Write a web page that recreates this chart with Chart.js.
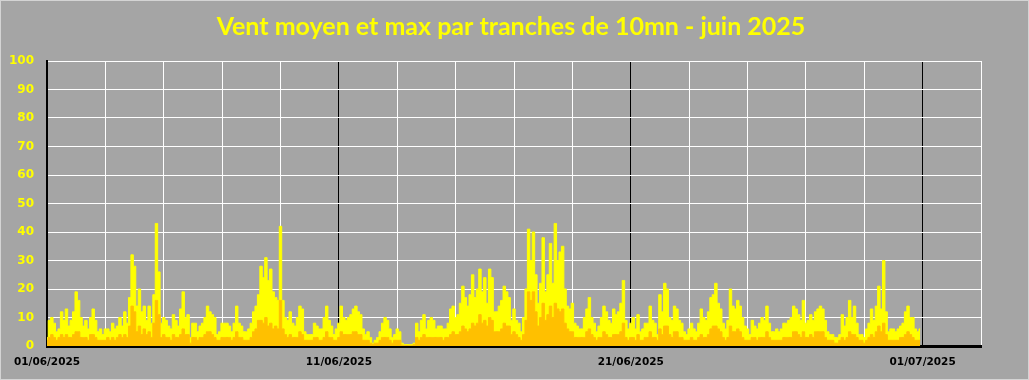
<!DOCTYPE html>
<html>
<head>
<meta charset="utf-8">
<script src="https://cdn.jsdelivr.net/npm/chart.js@4.4.1/dist/chart.umd.min.js"></script>
<style>
  html, body { margin: 0; padding: 0; background: #a5a5a5; }
  #wrap { width: 1029px; height: 380px; }
</style>
</head>
<body>
<div id="wrap"><canvas id="c" width="1029" height="380"></canvas></div>
<script>
// ---- DATA (2-hour samples, 01/06/2025 00:00 -> 01/07/2025 00:00) ----
const titleText = "Vent moyen et max par tranches de 10mn - juin 2025";
const dateLabels = ["01/06/2025", "11/06/2025", "21/06/2025", "01/07/2025"];
const yTicks = [0, 10, 20, 30, 40, 50, 60, 70, 80, 90, 100];
const samplesPerDay = 12;

const windMax = [
  3,9,10,8,5,6,12,9,13,7,9,12,
  19,16,10,7,9,6,10,13,9,5,6,4,
  6,6,5,8,6,7,10,7,12,8,17,32,
  28,14,20,12,14,9,14,8,18,43,26,8,
  10,9,7,6,11,9,7,13,19,10,11,3,
  8,8,5,7,8,10,14,12,11,10,4,5,
  8,8,8,7,5,8,14,8,7,5,5,6,
  8,12,14,18,28,24,31,23,27,19,17,16,
  42,16,10,9,12,8,7,10,14,13,5,4,
  4,4,8,7,6,6,10,14,9,7,4,6,
  8,14,10,9,10,11,13,14,12,11,6,4,
  5,3,1,2,3,5,8,10,9,6,3,4,
  6,5,1,0.5,0.5,0.5,0.5,1,8,5,9,11,
  6,9,10,9,6,7,7,6,6,8,13,14,
  10,11,15,21,17,14,18,25,17,20,27,19,
  24,15,27,24,12,12,14,16,21,19,17,9,
  13,9,8,5,10,20,41,30,40,25,15,22,
  38,19,25,36,22,43,30,33,35,20,14,13,
  15,8,7,6,6,10,13,17,10,8,5,7,
  10,14,12,9,8,13,11,12,15,23,9,6,
  8,10,6,11,5,6,8,8,14,9,8,4,
  18,12,22,20,10,9,14,13,9,8,5,4,
  6,8,6,5,8,13,10,9,12,17,18,22,
  15,13,8,6,9,20,14,13,16,14,10,7,
  6,4,9,7,6,8,10,9,14,8,5,5,
  6,5,6,8,8,9,10,14,13,11,9,16,
  8,9,11,9,12,13,14,13,9,5,4,4,
  3,3,4,11,7,10,16,10,14,8,4,4,
  3,6,8,13,9,14,21,13,30,12,5,6,
  6,5,6,7,8,12,14,10,10,6,5,6
];

const windMean = [
  2,3,4,3,2,3,4,3,4,3,3,4,
  5,5,3,3,3,2,4,4,3,2,2,2,
  2,3,2,3,2,3,4,3,4,3,7,14,
  12,5,7,4,6,4,5,3,8,16,11,3,
  4,3,3,2,4,3,3,4,6,4,4,1,
  3,3,2,3,3,4,5,5,4,3,2,2,
  3,3,3,3,2,3,5,3,3,2,2,2,
  3,5,6,9,9,8,10,7,8,6,7,6,
  16,6,4,3,4,3,3,3,5,4,2,2,
  2,2,3,3,2,2,3,5,3,3,2,2,
  3,5,4,4,4,4,5,5,4,4,2,2,
  2,1,0.5,1,1,2,3,3,3,2,1,2,
  2,2,0.3,0.2,0.2,0.2,0.2,0.5,3,2,3,4,
  3,3,3,3,3,3,3,2,3,3,4,5,
  4,4,5,7,6,5,6,8,7,8,11,8,
  9,7,10,9,5,5,5,6,8,7,7,4,
  5,4,3,2,4,9,19,16,19,12,7,10,
  15,9,11,14,10,15,13,12,13,8,6,5,
  5,3,3,3,3,3,5,6,4,3,2,3,
  3,5,4,3,3,4,4,4,5,8,3,2,
  3,3,2,4,2,2,3,3,5,3,3,2,
  6,4,7,7,4,3,5,5,3,3,2,2,
  2,3,2,2,3,4,3,3,4,6,7,7,
  6,5,3,2,3,7,5,5,6,5,3,2,
  2,2,3,3,2,3,3,3,5,3,2,2,
  2,2,2,3,3,3,3,5,5,4,3,5,
  3,3,4,3,5,5,5,5,3,2,2,2,
  1,1,2,3,2,3,5,4,4,3,2,2,
  1,2,3,4,3,5,7,5,8,4,2,2,
  2,2,2,3,3,4,5,4,3,2,2,2
];

// ---- build points (x in days since 01/06) ----
const toPts = arr => arr.map((v, i) => ({ x: i / samplesPerDay, y: v }));

const decoPlugin = {
  id: 'deco',
  beforeDraw(chart) {
    const ctx = chart.ctx;
    ctx.save();
    ctx.fillStyle = '#a5a5a5';
    ctx.fillRect(0, 0, chart.width, chart.height);
    ctx.restore();
  },
  afterDraw(chart) {
    const ctx = chart.ctx;
    ctx.save();
    ctx.fillStyle = '#ffff00';
    ctx.font = 'bold 25px Lato';
    ctx.textAlign = 'center';
    ctx.textBaseline = 'alphabetic';
    ctx.fillText(titleText, 511, 35);
    ctx.strokeStyle = '#d4d4d4';
    ctx.lineWidth = 1;
    ctx.strokeRect(0.5, 0.5, chart.width - 1, chart.height - 1);
    ctx.restore();
  }
};

new Chart(document.getElementById('c'), {
  type: 'line',
  data: {
    datasets: [
      {
        label: 'Vent moyen',
        data: toPts(windMean),
        borderColor: '#ffc000',
        backgroundColor: '#ffc000',
        borderWidth: 1,
        fill: 'origin',
        pointRadius: 0,
        stepped: 'middle'
      },
      {
        label: 'Vent max',
        data: toPts(windMax),
        borderColor: '#ffff00',
        backgroundColor: '#ffff00',
        borderWidth: 1,
        fill: 'origin',
        pointRadius: 0,
        stepped: 'middle'
      }
    ]
  },
  options: {
    responsive: false,
    animation: false,
    layout: { padding: { left: 0, right: 48, top: 61, bottom: 0 } },
    plugins: {
      legend: { display: false },
      tooltip: { enabled: false },
      title: { display: false }
    },
    scales: {
      x: {
        type: 'linear',
        min: 0,
        max: 32,
        afterBuildTicks(scale) {
          const t = [];
          for (let d = 0; d <= 32; d += 2) t.push({ value: d });
          scale.ticks = t;
        },
        afterFit(scale) { scale.height = 34; },
        grid: {
          drawTicks: false,
          lineWidth: 1,
          color: ctx => (ctx.tick && ctx.tick.value % 10 === 0) ? '#000000' : '#ffffff'
        },
        border: { display: true, color: '#000000', width: 3 },
        ticks: {
          autoSkip: false,
          maxRotation: 0,
          padding: 10,
          color: '#000000',
          font: { family: 'DejaVu Sans', size: 10.5, weight: 'bold' },
          callback: v => (v % 10 === 0 && v / 10 < dateLabels.length) ? dateLabels[v / 10] : ''
        }
      },
      y: {
        min: 0,
        max: 100,
        afterBuildTicks(scale) { scale.ticks = yTicks.map(v => ({ value: v })); },
        afterFit(scale) { scale.width = 47; },
        grid: { drawTicks: false, color: '#ffffff', lineWidth: 1 },
        border: { display: true, color: '#000000', width: 2 },
        ticks: {
          padding: 13,
          color: '#ffff00',
          font: { family: 'DejaVu Sans', size: 12, weight: 'bold' }
        }
      }
    }
  },
  plugins: [decoPlugin]
});
</script>
</body>
</html>
